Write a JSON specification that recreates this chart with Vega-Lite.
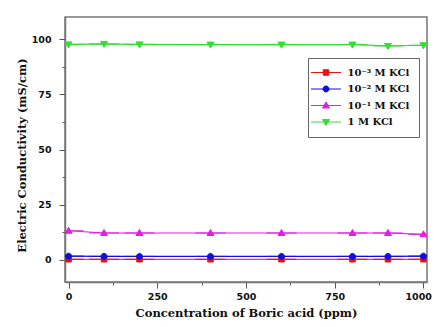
{
  "$schema": "https://vega.github.io/schema/vega-lite/v6.json",
  "width": 362,
  "height": 265,
  "autosize": {"type": "none"},
  "padding": {"left": 65, "top": 17, "right": 7, "bottom": 45},
  "background": "white",
  "config": {
    "view": {"stroke": "#777777", "strokeWidth": 1.5},
    "font": "DejaVu Serif",
    "legend": {
      "orient": "none", "legendX": 243, "legendY": 41,
      "strokeColor": "#666", "padding": 9, "fillColor": "white",
      "labelFont": "DejaVu Serif", "labelFontSize": 10, "labelFontWeight": "bold", "labelColor": "#111",
      "symbolSize": 100, "symbolStrokeWidth": 1, "rowPadding": 5.5,
      "symbolOffset": 3.5, "labelOffset": 16,
      "labelExpr": "datum.label + '\u00a0\u00a0\u00a0'"
    }
  },
  "data": {
    "values": [
      {"s": "10⁻³ M KCl", "x": 0, "y": 0.3},
      {"s": "10⁻³ M KCl", "x": 100, "y": 0.3},
      {"s": "10⁻³ M KCl", "x": 200, "y": 0.3},
      {"s": "10⁻³ M KCl", "x": 400, "y": 0.3},
      {"s": "10⁻³ M KCl", "x": 600, "y": 0.3},
      {"s": "10⁻³ M KCl", "x": 800, "y": 0.3},
      {"s": "10⁻³ M KCl", "x": 900, "y": 0.3},
      {"s": "10⁻³ M KCl", "x": 1000, "y": 0.3},
      {"s": "10⁻² M KCl", "x": 0, "y": 1.7},
      {"s": "10⁻² M KCl", "x": 100, "y": 1.6},
      {"s": "10⁻² M KCl", "x": 200, "y": 1.6},
      {"s": "10⁻² M KCl", "x": 400, "y": 1.6},
      {"s": "10⁻² M KCl", "x": 600, "y": 1.6},
      {"s": "10⁻² M KCl", "x": 800, "y": 1.6},
      {"s": "10⁻² M KCl", "x": 900, "y": 1.6},
      {"s": "10⁻² M KCl", "x": 1000, "y": 1.7},
      {"s": "10⁻¹ M KCl", "x": 0, "y": 13.2},
      {"s": "10⁻¹ M KCl", "x": 100, "y": 12.2},
      {"s": "10⁻¹ M KCl", "x": 200, "y": 12.2},
      {"s": "10⁻¹ M KCl", "x": 400, "y": 12.2},
      {"s": "10⁻¹ M KCl", "x": 600, "y": 12.2},
      {"s": "10⁻¹ M KCl", "x": 800, "y": 12.2},
      {"s": "10⁻¹ M KCl", "x": 900, "y": 12.2},
      {"s": "10⁻¹ M KCl", "x": 1000, "y": 11.6},
      {"s": "1 M KCl", "x": 0, "y": 97.6},
      {"s": "1 M KCl", "x": 100, "y": 97.8},
      {"s": "1 M KCl", "x": 200, "y": 97.6},
      {"s": "1 M KCl", "x": 400, "y": 97.5},
      {"s": "1 M KCl", "x": 600, "y": 97.5},
      {"s": "1 M KCl", "x": 800, "y": 97.5},
      {"s": "1 M KCl", "x": 900, "y": 96.9},
      {"s": "1 M KCl", "x": 1000, "y": 97.2}
    ]
  },
  "encoding": {
    "x": {
      "field": "x", "type": "quantitative",
      "scale": {"domain": [-10, 1010], "nice": false, "zero": false},
      "axis": {
        "title": "Concentration of Boric acid (ppm)",
        "titleFont": "DejaVu Serif", "titleFontSize": 11.5, "titleFontWeight": "bold", "titleColor": "#111",
        "titlePadding": 7,
        "values": [0, 125, 250, 375, 500, 625, 750, 875, 1000],
        "format": "d",
        "labelExpr": "datum.value % 250 === 0 ? datum.label : ''",
        "labelFont": "DejaVu Sans", "labelFontSize": 9.5, "labelFontWeight": "bold", "labelColor": "#111",
        "labelPadding": 3,
        "labelAlign": {"condition": {"test": "datum.value === 1000", "value": "right"}, "value": "center"},
        "labelOffset": {"condition": {"test": "datum.value === 1000", "value": 8}, "value": 0},
        "tickSize": {"condition": {"test": "datum.value % 250 === 0", "value": 6}, "value": 3},
        "tickColor": "#555", "domainColor": "#777", "domainWidth": 1.5,
        "grid": false, "labelFlush": false, "labelOverlap": false
      }
    },
    "y": {
      "field": "y", "type": "quantitative",
      "scale": {"domain": [-10, 110], "nice": false, "zero": false},
      "axis": {
        "title": "Electric Conductivity (mS/cm)",
        "titleFont": "DejaVu Serif", "titleFontSize": 11.5, "titleFontWeight": "bold", "titleColor": "#111",
        "titlePadding": 4, "titleY": 138,
        "values": [0, 12.5, 25, 37.5, 50, 62.5, 75, 87.5, 100],
        "labelExpr": "datum.value % 25 === 0 ? datum.label : ''",
        "labelFont": "DejaVu Sans", "labelFontSize": 9.5, "labelFontWeight": "bold", "labelColor": "#111",
        "labelPadding": 8,
        "tickSize": {"condition": {"test": "datum.value % 25 === 0", "value": 6}, "value": 3},
        "tickColor": "#555", "domainColor": "#777", "domainWidth": 1.5,
        "grid": false, "labelOverlap": false
      }
    },
    "stroke": {
      "field": "s", "type": "nominal",
      "scale": {
        "domain": ["10⁻³ M KCl", "10⁻² M KCl", "10⁻¹ M KCl", "1 M KCl"],
        "range": ["#e81010", "#1010d8", "#e020e0", "#30e030"]
      },
      "legend": {"title": null}
    }
  },
  "layer": [
    {"mark": {"type": "line", "strokeWidth": 1.2}},
    {
      "mark": {"type": "point", "filled": true, "size": 100, "opacity": 1, "strokeWidth": 1, "clip": true},
      "encoding": {
        "fill": {
          "field": "s", "type": "nominal",
          "scale": {
            "domain": ["10⁻³ M KCl", "10⁻² M KCl", "10⁻¹ M KCl", "1 M KCl"],
            "range": ["#e81010", "#1010d8", "#e020e0", "#30e030"]
          },
          "legend": {"title": null}
        },
        "shape": {
          "field": "s", "type": "nominal",
          "scale": {
            "domain": ["10⁻³ M KCl", "10⁻² M KCl", "10⁻¹ M KCl", "1 M KCl"],
            "range": [
              "M-3,0H3M-0.55,-0.55H0.55V0.55H-0.55Z",
              "M-3,0H3M0.6,0A0.6,0.6,0,1,1,-0.6,0A0.6,0.6,0,1,1,0.6,0Z",
              "M-3,0H3M0,-0.7L0.7,0.5H-0.7Z",
              "M-3,0H3M0,0.7L0.7,-0.5H-0.7Z"
            ]
          },
          "legend": {"title": null}
        }
      }
    }
  ]
}
